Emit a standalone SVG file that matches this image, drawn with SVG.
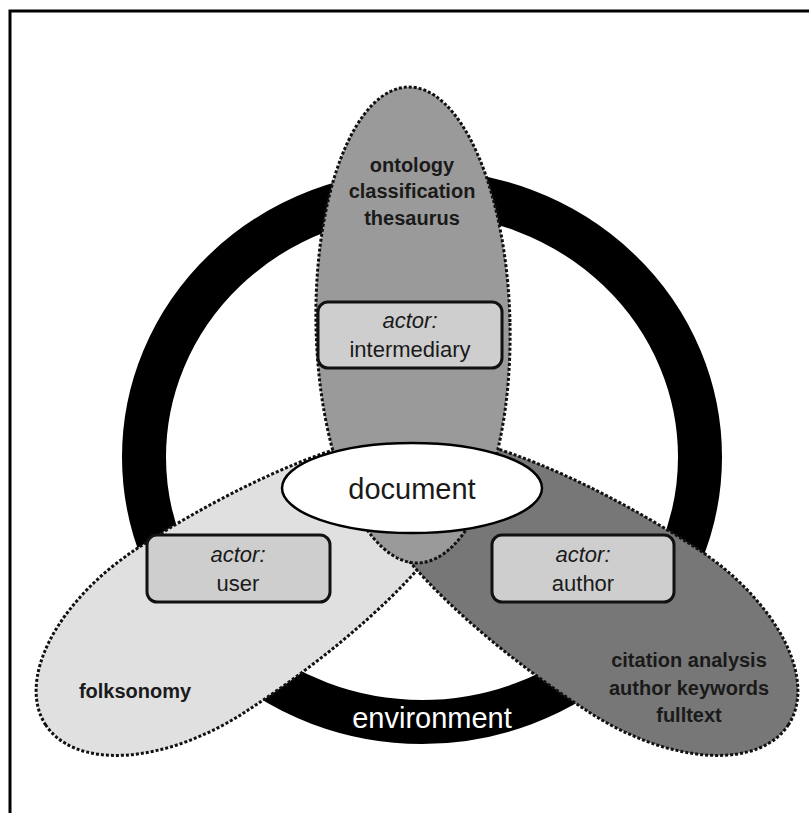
<svg xmlns="http://www.w3.org/2000/svg" width="809" height="813" viewBox="0 0 809 813">
<style>
.dot{stroke:#111;stroke-width:3;stroke-dasharray:3 2;}
.box{fill:#cecece;stroke:#111;stroke-width:3;}
.t{font-family:"Liberation Sans",Arial,sans-serif;fill:#1a1a1a;text-anchor:middle;}
.b{font-weight:bold;font-size:20px;}
.a{font-size:22px;}
.i{font-style:italic;}
</style>
<defs>
<path id="egg" d="M174 0 A174 98 0 0 1 0 98 A330 98 0 0 1 -330 0 A330 98 0 0 1 0 -98 A174 98 0 0 1 174 0 Z"/>
</defs>
<rect width="809" height="813" fill="#fff"/>
<path d="M10 813 V11 H809" fill="none" stroke="#000" stroke-width="3"/>
<g id="environment-ring">
<ellipse cx="422" cy="457" rx="278" ry="265" fill="none" stroke="#000" stroke-width="44"/>
<text class="t" x="432" y="728" font-size="29" style="fill:#fff">environment</text>
</g>
<g id="user-area">
<use href="#egg" class="dot" fill="#e0e0e0" transform="translate(191.5 630) scale(-1 1) rotate(33)"/>
<text class="t b" x="135" y="698">folksonomy</text>
</g>
<g id="author-area">
<use href="#egg" class="dot" fill="#777777" transform="translate(642.5 630) rotate(33)"/>
<text class="t b" x="689" y="667">citation analysis</text>
<text class="t b" x="689" y="695">author keywords</text>
<text class="t b" x="689" y="722">fulltext</text>
</g>
<g id="intermediary-area">
<ellipse class="dot" cx="413" cy="325" rx="97" ry="238" fill="#9a9a9a" transform="rotate(-1.2 413 325)"/>
<text class="t b" x="412" y="172">ontology</text>
<text class="t b" x="412" y="198">classification</text>
<text class="t b" x="412" y="225">thesaurus</text>
</g>
<g id="actor-intermediary">
<rect class="box" x="318" y="302" width="184" height="66" rx="10"/>
<text class="t a i" x="410" y="328">actor:</text>
<text class="t a" x="410" y="357">intermediary</text>
</g>
<g id="actor-user">
<rect class="box" x="147" y="535" width="183" height="67" rx="10"/>
<text class="t a i" x="238" y="562">actor:</text>
<text class="t a" x="238" y="591">user</text>
</g>
<g id="actor-author">
<rect class="box" x="492" y="535" width="182" height="67" rx="10"/>
<text class="t a i" x="583" y="562">actor:</text>
<text class="t a" x="583" y="591">author</text>
</g>
<g id="document">
<ellipse cx="412" cy="488" rx="130" ry="45" fill="#fff" stroke="#000" stroke-width="2.5"/>
<text class="t" x="412" y="499" font-size="29">document</text>
</g>
<g id="connectors"></g>
</svg>
